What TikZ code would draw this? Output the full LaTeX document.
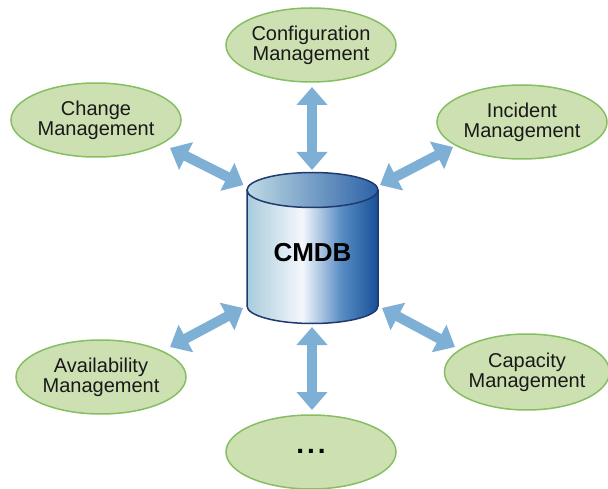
\documentclass[tikz,border=0pt]{standalone}
\usepackage{fontspec}
\setmainfont{Liberation Sans}
\usetikzlibrary{arrows.meta,shapes.geometric,calc}
\definecolor{ellfill}{RGB}{205,224,178}
\definecolor{elldraw}{RGB}{134,190,98}
\definecolor{arrowblue}{RGB}{126,176,213}
\definecolor{cylline}{RGB}{30,58,110}
\definecolor{cylleft}{RGB}{168,204,220}
\definecolor{cylmid}{RGB}{244,247,252}
\definecolor{cylmid2}{RGB}{88,140,196}
\definecolor{cylright}{RGB}{24,80,152}
\definecolor{toplight}{RGB}{190,218,228}
\definecolor{topdark}{RGB}{45,98,168}
\definecolor{txt}{RGB}{25,25,25}
\pgfdeclarehorizontalshading{cylbody}{100bp}{color(0bp)=(cylleft); color(25bp)=(cylleft); color(46bp)=(cylmid); color(61bp)=(cylmid2); color(75bp)=(cylright); color(100bp)=(cylright)}
\tikzset{
  proc/.style={ellipse, draw=elldraw, fill=ellfill, line width=1.5pt,
    minimum width=170pt, minimum height=74pt, inner sep=0pt, align=center,
    text=txt, font=\fontsize{20}{20}\selectfont},
  biarrow/.style={draw=arrowblue, line width=10pt,
    {Triangle[width=30pt,length=18pt]}-{Triangle[width=30pt,length=18pt]}},
  cylout/.style={draw=cylline, line width=1.5pt}
}
\begin{document}
\begin{tikzpicture}[x=1pt,y=-1pt]
\useasboundingbox (0,0) rectangle (608,489);
% cylinder body
\shade[shading=cylbody] (247,190) -- (247,306) arc[start angle=180,end angle=0,x radius=65.5,y radius=17.5] -- (378,190) -- cycle;
\draw[cylout] (247,190) -- (247,306) arc[start angle=180,end angle=0,x radius=65.5,y radius=17.5] -- (378,190);
\shade[left color=toplight, right color=topdark, cylout] (312.5,190) ellipse[x radius=65.5, y radius=17.5];
\node[minimum width=131pt, minimum height=151pt, inner sep=0pt, text=black,
  font=\fontsize{26}{26}\selectfont\bfseries] (db) at (312.5,253) {CMDB};
% nodes
\node[proc] (cfg) at (311,45) {Configuration\\Management};
\node[proc] (chg) at (96,120) {Change\\Management};
\node[proc] (inc) at (522,122) {Incident\\Management};
\node[proc] (avl) at (101,377) {Availability\\Management};
\node[proc, minimum width=165pt, minimum height=76pt] (cap) at (527,372) {Capacity\\Management};
\node[proc] (dots) at (311,452) {};
\node[font=\fontsize{28}{28}\selectfont\bfseries, inner sep=0pt] (dt) at (311,451) {.\hspace{3pt}.\hspace{3pt}.};
% arrows
\draw[biarrow] ([shift={(74,28)}]chg.center) -- ([shift={(-69,-68)}]db.center);
\draw[biarrow] ([shift={(-69,25)}]inc.center) -- ([shift={(67.5,-68)}]db.center);
\draw[biarrow] ([shift={(69,-30)}]avl.center) -- ([shift={(-69.5,55)}]db.center);
\draw[biarrow] ([shift={(-72,-25)}]cap.center) -- ([shift={(69.5,55)}]db.center);
\draw[biarrow] ([shift={(1,42)}]cfg.center) -- ([shift={(-0.5,-83)}]db.center);
\draw[biarrow] ([shift={(1,-42)}]dots.center) -- ([shift={(-0.5,74)}]db.center);
\end{tikzpicture}
\end{document}
